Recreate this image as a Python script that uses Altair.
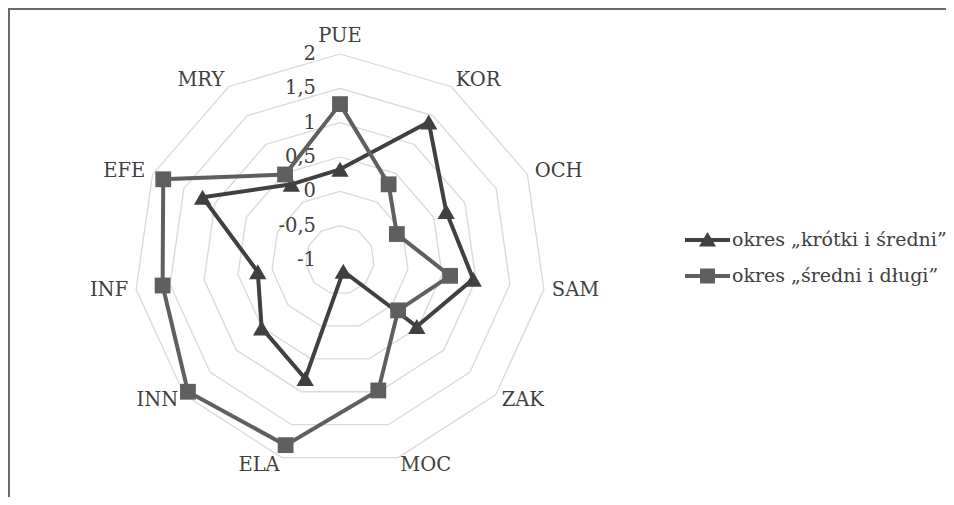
import pandas as pd
import altair as alt

categories = ["PUE", "KOR", "OCH", "SAM", "ZAK", "MOC", "ELA", "INN", "INF", "EFE", "MRY"]
series_names = ["okres „krótki i średni”", "okres „średni i długi”"]
short_mid = [0.32, 1.39, 0.70, 0.96, 0.48, -0.83, 0.80, 0.51, 0.21, 1.20, 0.31]
mid_long = [1.27, 0.31, -0.09, 0.62, 0.12, 0.98, 1.81, 1.93, 1.61, 1.83, 0.48]
tick_values = [-1, -0.5, 0, 0.5, 1, 1.5, 2]
tick_labels = ["-1", "-0,5", "0", "0,5", "1", "1,5", "2"]

series_colors = ["#404040", "#5f5f5f"]
series_shapes = ["triangle-up", "square"]
series_sizes = [300, 250]
TEXT = "#404040"
FONT = "DejaVu Serif"
FS = 19.5
FS_LEG = 19

# layout (view coordinates)
W, H = 938, 489
CX, CY = 332.0, 252.0
VMIN = tick_values[0]
RMAX = tick_values[-1] - VMIN
K = 206.0 / RMAX  # px per unit
N = len(categories)

rows = []
for name, vals in zip(series_names, [short_mid, mid_long]):
    for i in range(N + 1):
        rows.append({"series": name, "idx": i, "cat": categories[i % N], "value": vals[i % N]})
series_df = pd.DataFrame(rows)

grid_df = pd.DataFrame([{"level": lv, "idx": i} for lv in tick_values[1:] for i in range(N + 1)])
tick_df = pd.DataFrame({"level": tick_values, "label": tick_labels})
cat_df = pd.DataFrame({"idx": list(range(N)), "cat": categories})

xs = alt.Scale(domain=[-CX / K, (W - CX) / K], nice=False, zero=False)
ys = alt.Scale(domain=[-(H - CY) / K, CY / K], nice=False, zero=False)
X = alt.X("px:Q", scale=xs, axis=None)
Y = alt.Y("py:Q", scale=ys, axis=None)

ANG = f"datum.idx * 2 * PI / {N}"


def polar(ch, rexpr):
    return (ch.transform_calculate(ang=ANG)
              .transform_calculate(rr=rexpr)
              .transform_calculate(px="datum.rr * sin(datum.ang)",
                                   py="datum.rr * cos(datum.ang)",
                                   s="sin(datum.ang)"))


grid = polar(alt.Chart(grid_df).mark_line(stroke="#d9d9d9", strokeWidth=1.3),
             f"datum.level - ({VMIN})").encode(X, Y, detail="level:N", order="idx:Q")

ticks = (alt.Chart(tick_df)
         .mark_text(align="right", baseline="middle", dx=-24, font=FONT, fontSize=FS, color=TEXT)
         .transform_calculate(px="0", py=f"datum.level - ({VMIN})")
         .encode(X, Y, text="label:N"))

RLAB = RMAX + 8.0 / K
cat_base = polar(alt.Chart(cat_df), f"{RLAB}")
cats_right = cat_base.transform_filter("datum.s > 0.05").mark_text(
    align="left", baseline="middle", font=FONT, fontSize=FS, color=TEXT).encode(X, Y, text="cat:N")
cats_left = cat_base.transform_filter("datum.s < -0.05").mark_text(
    align="right", baseline="middle", font=FONT, fontSize=FS, color=TEXT).encode(X, Y, text="cat:N")
cats_top = cat_base.transform_filter("abs(datum.s) <= 0.05").mark_text(
    align="center", baseline="bottom", font=FONT, fontSize=FS, color=TEXT).encode(X, Y, text="cat:N")

series_layers = []
for j, name in enumerate(series_names):
    base = polar(alt.Chart(series_df[series_df["series"] == name]), f"datum.value - ({VMIN})")
    line = base.mark_line(color=series_colors[j], strokeWidth=4).encode(X, Y, order="idx:Q")
    pts = base.transform_filter(f"datum.idx < {N}").mark_point(
        shape=series_shapes[j], filled=True, size=series_sizes[j], color=series_colors[j],
        opacity=1, strokeWidth=0).encode(X, Y)
    series_layers += [line, pts]

path_tri = "M-2.25,-0.2L2.25,-0.2L2.25,0.2L-2.25,0.2Z M-0.85,0.65L0,-0.8L0.85,0.65Z"
path_sq = "M-2.25,-0.2L2.25,-0.2L2.25,0.2L-2.25,0.2Z M-0.75,-0.75L0.75,-0.75L0.75,0.75L-0.75,0.75Z"

leg = alt.Legend(orient="none", legendX=689.5, legendY=222, title=None, padding=0,
                 symbolSize=400, symbolStrokeWidth=0, labelFont=FONT, labelFontSize=FS_LEG,
                 labelColor=TEXT, labelOffset=14.5, rowPadding=16, labelLimit=400)
legend_layer = (alt.Chart(pd.DataFrame({"lseries": series_names}))
                .transform_filter("false")
                .mark_point(filled=True, size=400, opacity=1)
                .encode(color=alt.Color("lseries:N", scale=alt.Scale(domain=series_names, range=series_colors), legend=leg),
                        shape=alt.Shape("lseries:N", scale=alt.Scale(domain=series_names, range=[path_tri, path_sq]), legend=leg)))

one = pd.DataFrame({"a": [0]})
border_top = alt.Chart(one).mark_rule(color="#6a6a6a", strokeWidth=2).encode(
    x=alt.value(0), x2=alt.value(W), y=alt.value(1))
border_left = alt.Chart(one).mark_rule(color="#6a6a6a", strokeWidth=2).encode(
    x=alt.value(1), y=alt.value(0), y2=alt.value(H))

chart = alt.layer(border_top, border_left, grid, ticks, cats_right, cats_left, cats_top,
                  *series_layers, legend_layer).properties(
    width=W, height=H, padding=0, autosize=alt.AutoSizeParams(type="none"),
    background="white").configure_view(stroke=None)

chart.save("out.html", embed_options={"renderer": "svg", "actions": False})
